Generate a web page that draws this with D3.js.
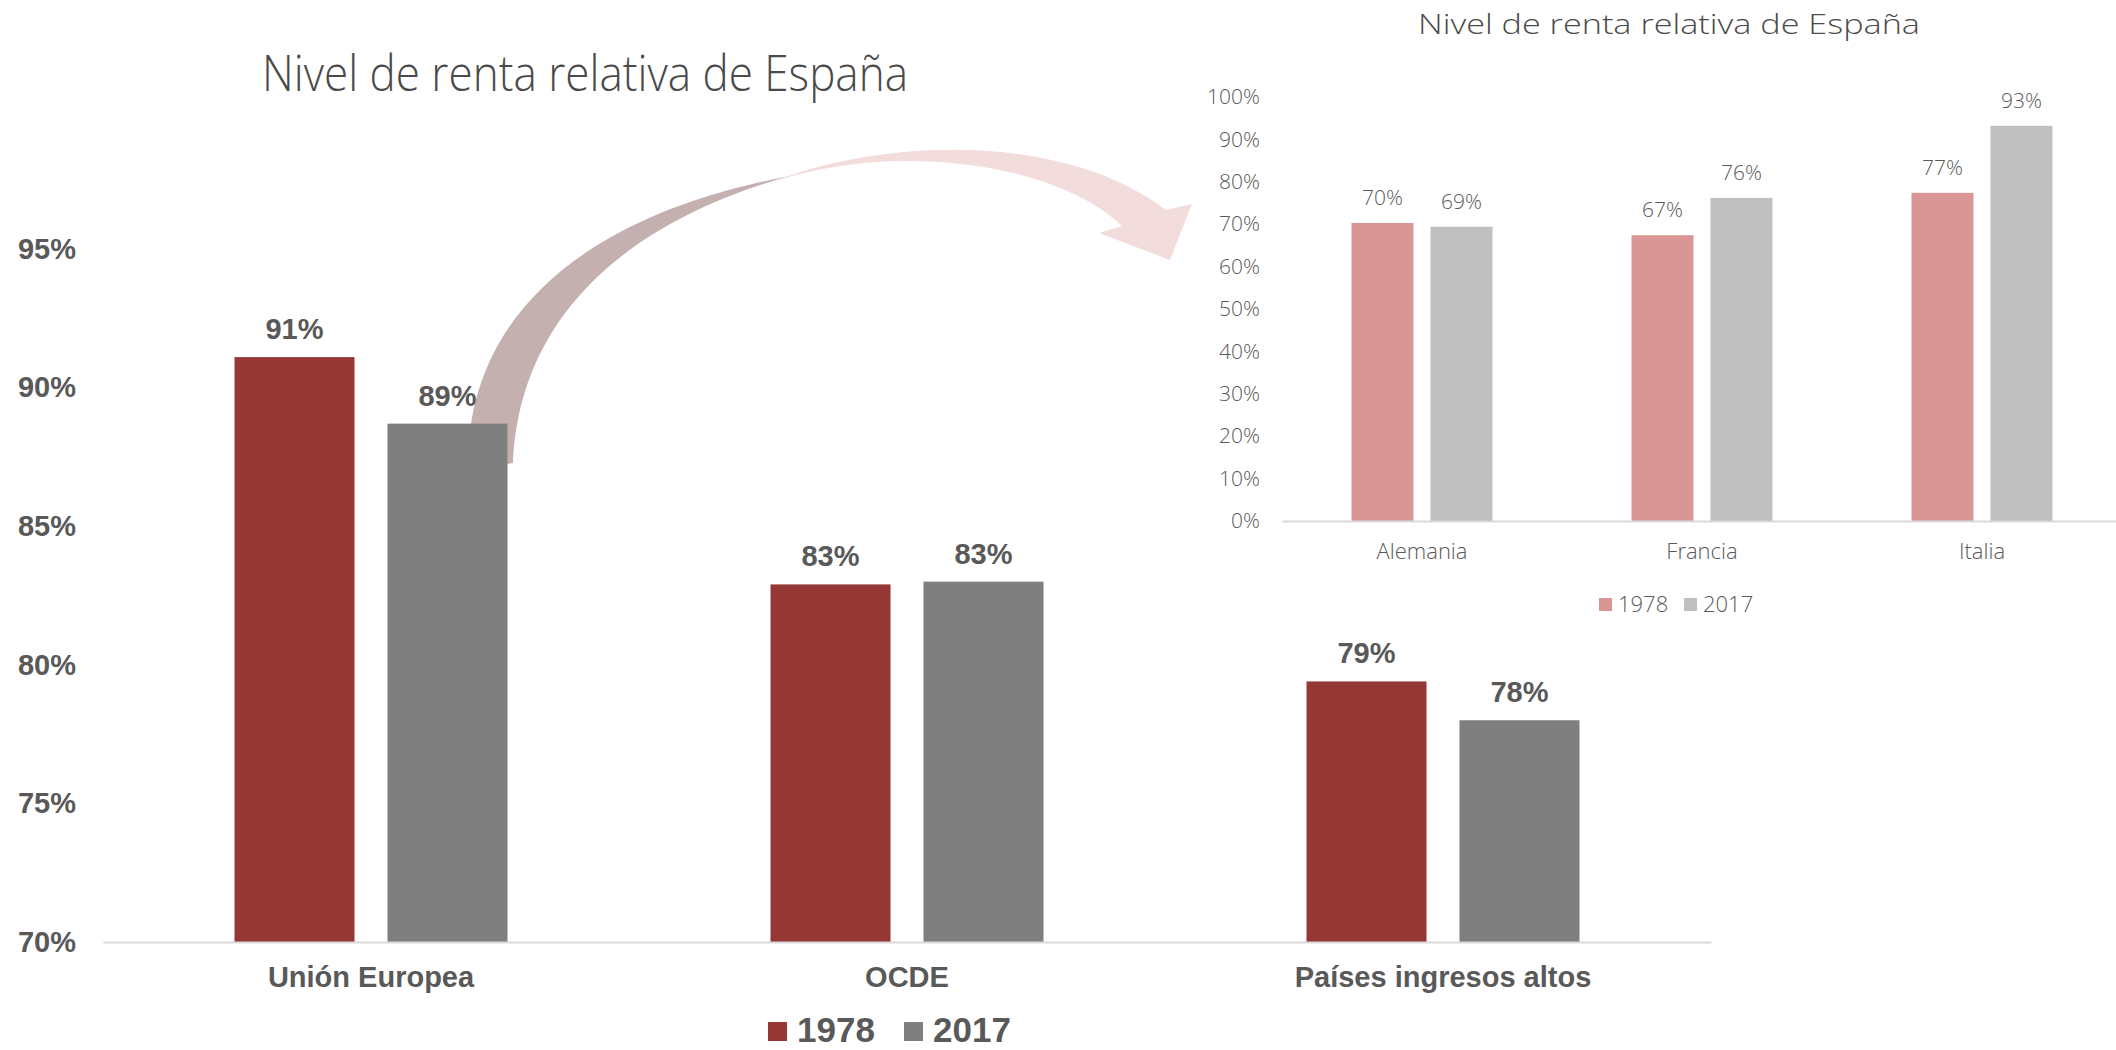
<!DOCTYPE html>
<html>
<head>
<meta charset="utf-8">
<script src="https://cdn.jsdelivr.net/npm/d3@7/dist/d3.min.js"></script>
<style>
  body { margin: 0; background: #fff; }
  svg { display: block; }
</style>
</head>
<body>
<div id="chart"></div>
<script>
// main chart data
var categories = ["Unión Europea", "OCDE", "Países ingresos altos"];
var series = ["1978", "2017"];
var values1978 = [0.911, 0.829, 0.794];
var values2017 = [0.887, 0.830, 0.780];
var yTicks = [0.70, 0.75, 0.80, 0.85, 0.90, 0.95];

// inset chart data
var countries = ["Alemania", "Francia", "Italia"];
var countries1978 = [0.703, 0.674, 0.774];
var countries2017 = [0.694, 0.762, 0.932];
var insetTicks = [0, 0.1, 0.2, 0.3, 0.4, 0.5, 0.6, 0.7, 0.8, 0.9, 1.0];

var titleText = "Nivel de renta relativa de España";

var W = 2116, H = 1050;
var svg = d3.select("#chart").append("svg").attr("width", W).attr("height", H);

var pct = d3.format(".0%");
var textGrey = "#595959";

// ---- curved arrow (drawn first so the bar sits on top of it) ----
// back part of the arrow, darker, tapering towards the top
svg.append("path")
    .attr("d", "M468,470 C465,320 580,215 790,176 C650,215 520,300 513,463 Z")
    .attr("fill", "#c4b0ae");

// front part, light pink, ending in the arrow head
svg.append("path")
    .attr("d", "M775,181 C880,140 1060,130 1166,210 L1192,204 L1170,260 L1099,233 L1122,226" +
               " C1060,165 900,140 775,181 Z")
    .attr("fill", "#f2dcdc");

// ---- main chart ----
var x0 = d3.scaleBand().domain(categories).range([103, 1711]);
var x1 = d3.scaleBand().domain(series).range([-136.5, 136.5]).paddingInner(33 / 153);
var y = d3.scaleLinear().domain([0.70, 0.95]).range([942, 249]);
var mainColors = { "1978": "#953735", "2017": "#7f7f7f" };

var mainRows = categories.map(function (c, i) {
    return { cat: c, vals: [{ s: "1978", v: values1978[i] }, { s: "2017", v: values2017[i] }] };
});

svg.append("text")
    .attr("x", 262).attr("y", 91)
    .attr("textLength", 646).attr("lengthAdjust", "spacingAndGlyphs")
    .style("font-family", "'Open Sans', sans-serif").style("font-weight", 300)
    .style("font-size", "49px").style("fill", "#4a4a4a")
    .text(titleText);

var groups = svg.selectAll(".grp").data(mainRows).enter().append("g")
    .attr("transform", function (d) { return "translate(" + (x0(d.cat) + x0.bandwidth() / 2) + ",0)"; });

groups.selectAll("rect").data(function (d) { return d.vals; }).enter().append("rect")
    .attr("x", function (d) { return x1(d.s); })
    .attr("width", x1.bandwidth())
    .attr("y", function (d) { return y(d.v); })
    .attr("height", function (d) { return y(0.70) - y(d.v); })
    .attr("fill", function (d) { return mainColors[d.s]; });

groups.selectAll(".val").data(function (d) { return d.vals; }).enter().append("text")
    .attr("x", function (d) { return x1(d.s) + x1.bandwidth() / 2; })
    .attr("y", function (d) { return y(d.v) - 18; })
    .attr("text-anchor", "middle")
    .style("font-family", "'Liberation Sans', Arial, sans-serif").style("font-weight", "bold")
    .style("font-size", "29px").style("fill", textGrey)
    .text(function (d) { return pct(d.v); });

// y axis: labels only, no line
var yAxis = d3.axisLeft(y).tickValues(yTicks).tickFormat(pct).tickSize(0).tickPadding(0);
var gy = svg.append("g").attr("transform", "translate(76,0)").call(yAxis);
gy.select(".domain").remove();
gy.selectAll("text")
    .style("font-family", "'Liberation Sans', Arial, sans-serif").style("font-weight", "bold")
    .style("font-size", "29px").style("fill", textGrey);

// x axis
var xAxis = d3.axisBottom(x0).tickSize(0).tickPadding(0);
var gx = svg.append("g").attr("transform", "translate(0," + y(0.70) + ")").call(xAxis);
gx.select(".domain").attr("stroke", "#d9d9d9").attr("stroke-width", 2);
gx.selectAll("text")
    .attr("y", 45).attr("dy", 0)
    .style("font-family", "'Liberation Sans', Arial, sans-serif").style("font-weight", "bold")
    .style("font-size", "29px").style("fill", textGrey);

// main legend
var mainLegend = svg.append("g");
[[768, 797], [904, 933]].forEach(function (p, i) {
    mainLegend.append("rect").attr("x", p[0]).attr("y", 1022).attr("width", 19).attr("height", 19)
        .attr("fill", mainColors[series[i]]);
    mainLegend.append("text").attr("x", p[1]).attr("y", 1042)
        .style("font-family", "'Liberation Sans', Arial, sans-serif").style("font-weight", "bold")
        .style("font-size", "35px").style("fill", textGrey)
        .text(series[i]);
});

// ---- inset chart ----
var ix0 = d3.scaleBand().domain(countries).range([1282, 2122]);
var ix1 = d3.scaleBand().domain(series).range([-70.5, 70.5]).paddingInner(17 / 79);
var iy = d3.scaleLinear().domain([0, 1]).range([521, 97]);
var insetColors = { "1978": "#d99694", "2017": "#bfbfbf" };
var lightFont = "'Open Sans', sans-serif";

svg.append("text")
    .attr("x", 1418).attr("y", 34)
    .attr("textLength", 502).attr("lengthAdjust", "spacingAndGlyphs")
    .style("font-family", lightFont).style("font-weight", 300)
    .style("font-size", "27px").style("fill", "#4a4a4a")
    .text(titleText);

var insetRows = countries.map(function (c, i) {
    return { cat: c, vals: [{ s: "1978", v: countries1978[i] }, { s: "2017", v: countries2017[i] }] };
});

var igroups = svg.selectAll(".igrp").data(insetRows).enter().append("g")
    .attr("transform", function (d) { return "translate(" + (ix0(d.cat) + ix0.bandwidth() / 2) + ",0)"; });

igroups.selectAll("rect").data(function (d) { return d.vals; }).enter().append("rect")
    .attr("x", function (d) { return ix1(d.s); })
    .attr("width", ix1.bandwidth())
    .attr("y", function (d) { return iy(d.v); })
    .attr("height", function (d) { return iy(0) - iy(d.v); })
    .attr("fill", function (d) { return insetColors[d.s]; });

igroups.selectAll(".val").data(function (d) { return d.vals; }).enter().append("text")
    .attr("x", function (d) { return ix1(d.s) + ix1.bandwidth() / 2; })
    .attr("y", function (d) { return iy(d.v) - 18; })
    .attr("text-anchor", "middle")
    .style("font-family", lightFont).style("font-weight", 300)
    .style("font-size", "21px").style("fill", textGrey)
    .text(function (d) { return pct(d.v); });

var iyAxis = d3.axisLeft(iy).tickValues(insetTicks).tickFormat(pct).tickSize(0).tickPadding(0);
var igy = svg.append("g").attr("transform", "translate(1260,0)").call(iyAxis);
igy.select(".domain").remove();
igy.selectAll("text")
    .style("font-family", lightFont).style("font-weight", 300)
    .style("font-size", "21px").style("fill", textGrey);

var ixAxis = d3.axisBottom(ix0).tickSize(0).tickPadding(0);
var igx = svg.append("g").attr("transform", "translate(0," + iy(0) + ")").call(ixAxis);
igx.select(".domain").attr("stroke", "#d9d9d9").attr("stroke-width", 2);
igx.selectAll("text")
    .attr("y", 38).attr("dy", 0)
    .style("font-family", lightFont).style("font-weight", 300)
    .style("font-size", "22px").style("fill", textGrey);

// inset legend
var insetLegend = svg.append("g");
[[1599, 1618], [1684, 1703]].forEach(function (p, i) {
    insetLegend.append("rect").attr("x", p[0]).attr("y", 598).attr("width", 13).attr("height", 13)
        .attr("fill", insetColors[series[i]]);
    insetLegend.append("text").attr("x", p[1]).attr("y", 612)
        .style("font-family", lightFont).style("font-weight", 300)
        .style("font-size", "22px").style("fill", textGrey)
        .text(series[i]);
});
</script>
</body>
</html>
